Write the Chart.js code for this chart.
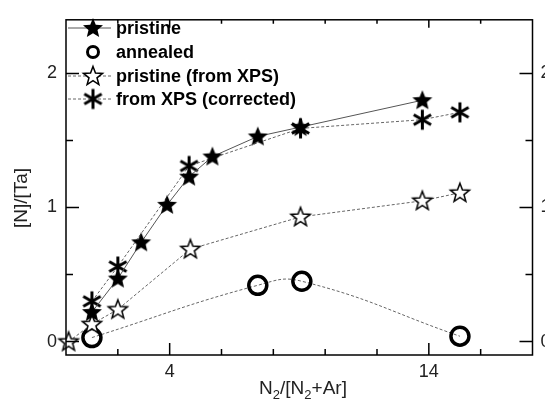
<!DOCTYPE html>
<html>
<head>
<meta charset="utf-8">
<script src="https://cdn.jsdelivr.net/npm/chart.js@4.4.0/dist/chart.umd.min.js"></script>
<style>
  html, body { margin: 0; padding: 0; background: #fff; }
</style>
</head>
<body>
<canvas id="nChart" width="545" height="401"></canvas>
<script>
// data
const pristineX = [1, 2, 2.9, 3.9, 4.75, 5.65, 7.4, 9.05, 13.75];
const pristineY = [0.22, 0.47, 0.74, 1.02, 1.23, 1.38, 1.53, 1.60, 1.80];

const annealedX = [1, 7.4, 9.1, 15.2];
const annealedY = [0.03, 0.42, 0.45, 0.04];

const xpsX = [0.1, 1, 2, 4.8, 9.05, 13.75, 15.2];
const xpsY = [0.0, 0.13, 0.24, 0.69, 0.93, 1.05, 1.11];

const corrX = [1, 2, 4.75, 9.05, 13.75, 15.2];
const corrY = [0.30, 0.56, 1.31, 1.59, 1.655, 1.71];

const xTicks = [2, 4, 6, 8, 10, 12, 14, 16];
const xLabels = [4, 14];
const yTicks = [0, 0.5, 1, 1.5, 2];
const yLabels = [0, 1, 2];

const seriesNames = ['pristine', 'annealed', 'pristine (from XPS)', 'from XPS (corrected)'];

const FONT = "'Liberation Sans', Arial, sans-serif";
Chart.defaults.font.family = FONT;

// marker images
function makeStar(r, filled, lw, inner) {
    const s = Math.ceil(2 * r + lw + 4);
    const c = document.createElement('canvas');
    c.width = c.height = s;
    const g = c.getContext('2d');
    g.translate(s / 2, s / 2 + 0.5);
    g.beginPath();
    for (let i = 0; i < 10; i++) {
        const a = -Math.PI / 2 + i * Math.PI / 5;
        const rr = i % 2 ? r * inner : r;
        g.lineTo(rr * Math.cos(a), rr * Math.sin(a));
    }
    g.closePath();
    if (filled) {
        g.fillStyle = '#000';
        g.fill();
    } else {
        g.fillStyle = '#fff';
        g.fill();
        g.strokeStyle = '#000';
        g.lineWidth = lw;
        g.stroke();
    }
    return c;
}

function makeAsterisk(r, lw) {
    const s = Math.ceil(2 * r + lw + 4);
    const c = document.createElement('canvas');
    c.width = c.height = s;
    const g = c.getContext('2d');
    g.translate(s / 2, s / 2);
    g.strokeStyle = '#000';
    g.lineWidth = lw;
    g.beginPath();
    for (let i = 0; i < 3; i++) {
        const a = Math.PI / 2 + i * Math.PI / 3;
        g.moveTo(r * Math.cos(a), r * Math.sin(a));
        g.lineTo(-r * Math.cos(a), -r * Math.sin(a));
    }
    g.stroke();
    return c;
}

const filledStar = makeStar(10.5, true, 1, 0.45);
const openStar = makeStar(10, false, 1.5, 0.42);
const asterisk = makeAsterisk(10, 3);

const lineGray = '#555';
const dotGray = '#666';

// axes box, inward ticks, right labels, titles, legend
const decor = {
    id: 'decor',
    afterDraw(chart) {
        const { ctx, chartArea: a, scales: { x, y } } = chart;
        ctx.save();
        ctx.strokeStyle = '#000';
        ctx.lineWidth = 1.5;
        ctx.strokeRect(a.left, a.top, a.right - a.left, a.bottom - a.top);

        ctx.beginPath();
        xTicks.forEach(v => {
            const px = x.getPixelForValue(v);
            const major = xLabels.includes(v);
            ctx.moveTo(px, a.bottom);
            ctx.lineTo(px, a.bottom - (major ? 12 : 6));
            ctx.moveTo(px, a.top);
            ctx.lineTo(px, a.top + (major ? 8 : 4));
        });
        yTicks.forEach(v => {
            const py = y.getPixelForValue(v);
            const major = yLabels.includes(v);
            ctx.moveTo(a.left, py);
            ctx.lineTo(a.left + (major ? 13 : 7), py);
            ctx.moveTo(a.right, py);
            ctx.lineTo(a.right - (major ? 13 : 7), py);
        });
        ctx.stroke();

        // right axis labels (cut off by the edge like the original)
        ctx.fillStyle = '#222';
        ctx.font = '18px ' + FONT;
        ctx.textAlign = 'left';
        ctx.textBaseline = 'middle';
        yLabels.forEach(v => ctx.fillText(String(v), a.right + 8, y.getPixelForValue(v)));

        // y title
        ctx.save();
        ctx.translate(22, 198);
        ctx.rotate(-Math.PI / 2);
        ctx.textAlign = 'center';
        ctx.font = '19px ' + FONT;
        ctx.fillText('[N]/[Ta]', 0, 0);
        ctx.restore();

        // x title with subscripts
        const parts = [['N', 0], ['2', 1], ['/[N', 0], ['2', 1], ['+Ar]', 0]];
        const big = '19px ' + FONT, small = '13px ' + FONT;
        let w = 0;
        parts.forEach(([t, sub]) => { ctx.font = sub ? small : big; w += ctx.measureText(t).width; });
        let cx = 303 - w / 2;
        ctx.textBaseline = 'alphabetic';
        parts.forEach(([t, sub]) => {
            ctx.font = sub ? small : big;
            ctx.fillText(t, cx, sub ? 399 : 394);
            cx += ctx.measureText(t).width;
        });

        // legend
        const rows = [28, 52, 76, 99];
        ctx.font = 'bold 18px ' + FONT;
        ctx.textBaseline = 'middle';
        ctx.fillStyle = '#000';
        rows.forEach((ry, i) => {
            if (i !== 1) {
                ctx.beginPath();
                ctx.lineWidth = 1;
                ctx.strokeStyle = i === 0 ? lineGray : dotGray;
                ctx.setLineDash(i === 0 ? [] : [3, 2]);
                ctx.moveTo(68, ry);
                ctx.lineTo(111, ry);
                ctx.stroke();
                ctx.setLineDash([]);
            }
            if (i === 1) {
                ctx.beginPath();
                ctx.lineWidth = 3;
                ctx.strokeStyle = '#000';
                ctx.arc(93, ry, 5.5, 0, Math.PI * 2);
                ctx.stroke();
            } else {
                const img = i === 0 ? filledStar : i === 2 ? openStar : asterisk;
                ctx.drawImage(img, 93 - img.width / 2, ry - img.height / 2);
            }
            ctx.fillText(seriesNames[i], 116, ry + 1);
        });
        ctx.restore();
    }
};

const toPts = (xs, ys) => xs.map((v, i) => ({ x: v, y: ys[i] }));

new Chart(document.getElementById('nChart'), {
    type: 'scatter',
    data: {
        datasets: [
            {
                label: seriesNames[0],
                data: toPts(pristineX, pristineY),
                showLine: true,
                borderColor: lineGray,
                borderWidth: 1,
                pointStyle: filledStar,
                pointRadius: 10
            },
            {
                label: seriesNames[3],
                data: toPts(corrX, corrY),
                showLine: true,
                borderColor: dotGray,
                borderWidth: 1,
                borderDash: [3, 2],
                pointStyle: asterisk,
                pointRadius: 10
            },
            {
                label: seriesNames[2],
                data: toPts(xpsX, xpsY),
                showLine: true,
                borderColor: dotGray,
                borderWidth: 1,
                borderDash: [3, 2],
                pointStyle: openStar,
                pointRadius: 10,
                clip: false
            },
            {
                label: seriesNames[1],
                data: toPts(annealedX, annealedY),
                showLine: true,
                borderColor: dotGray,
                borderWidth: 1,
                borderDash: [3, 2],
                tension: 0.45,
                pointStyle: 'circle',
                pointRadius: 9,
                pointBorderWidth: 3.5,
                pointBorderColor: '#000',
                pointBackgroundColor: 'rgba(0,0,0,0)'
            }
        ]
    },
    options: {
        responsive: false,
        animation: false,
        events: [],
        layout: { padding: { top: 11, right: 12, left: 0, bottom: 0 } },
        plugins: {
            legend: { display: false },
            tooltip: { enabled: false }
        },
        scales: {
            x: {
                type: 'linear',
                min: 0,
                max: 18,
                afterBuildTicks: s => { s.ticks = xLabels.map(v => ({ value: v })); },
                afterFit: s => { s.height = 46; },
                ticks: { color: '#222', font: { size: 18 }, padding: 6 },
                grid: { display: false, drawTicks: false },
                border: { display: false }
            },
            y: {
                type: 'linear',
                min: -0.1,
                max: 2.4,
                afterBuildTicks: s => { s.ticks = yLabels.map(v => ({ value: v })); },
                afterFit: s => { s.width = 66; },
                ticks: { color: '#222', font: { size: 18 }, padding: 9 },
                grid: { display: false, drawTicks: false },
                border: { display: false }
            }
        }
    },
    plugins: [decor]
});
</script>
</body>
</html>
